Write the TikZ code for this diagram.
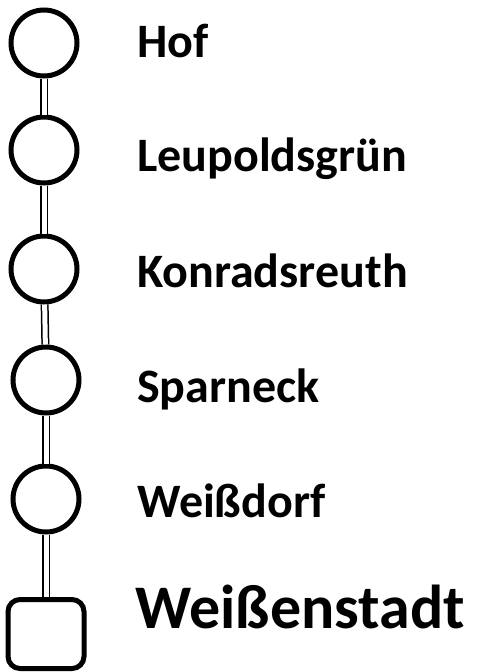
\documentclass[tikz,border=0pt]{standalone}
\usepackage{fontspec}
\setmainfont{Carlito}
\usepackage{tikz}
\tikzset{
  stn/.style={draw=black, fill=white, circle, line width=5pt, minimum size=66pt, inner sep=0pt},
  endstn/.style={draw=black, fill=white, rectangle, rounded corners=12pt, line width=5pt,
    minimum width=76pt, minimum height=69pt, inner sep=0pt},
  rail/.style={draw=black, line width=1.5pt, double=white, double distance=5pt},
  lab/.style={anchor=base west, inner sep=0pt, font=\fontsize{48}{56}\selectfont\bfseries},
  labm/.style={anchor=base west, inner sep=0pt, font=\fontsize{62}{74}\selectfont\bfseries},
}

\begin{document}
\begin{tikzpicture}[x=1pt,y=-1pt]
  \useasboundingbox (0,0) rectangle (480,672);
  % stations
  \node[stn] (hof) at (44,43) {};
  \node[stn] (leu) at (44,150) {};
  \node[stn] (kon) at (44,269) {};
  \node[stn] (spa) at (46,380) {};
  \node[stn] (wdf) at (46,499) {};
  \node[endstn] (wst) at (46,634) {};
  % line
  \foreach \A/\B in {hof/leu,leu/kon,kon/spa,spa/wdf,wdf/wst}
    \draw[rail] (\A) -- (\B);
  % names
  \node[lab] (hofl) at (137,57) {Hof};
  \node[lab] (leul) at (137,171) {Leupoldsgrün};
  \node[lab] (konl) at (137,287) {Konradsreuth};
  \node[lab] (spal) at (137,402) {Sparneck};
  \node[lab] (wdfl) at (137,517) {Weißdorf};
  \node[labm] (wstl) at (135,628) {Weißenstadt};
\end{tikzpicture}
\end{document}
